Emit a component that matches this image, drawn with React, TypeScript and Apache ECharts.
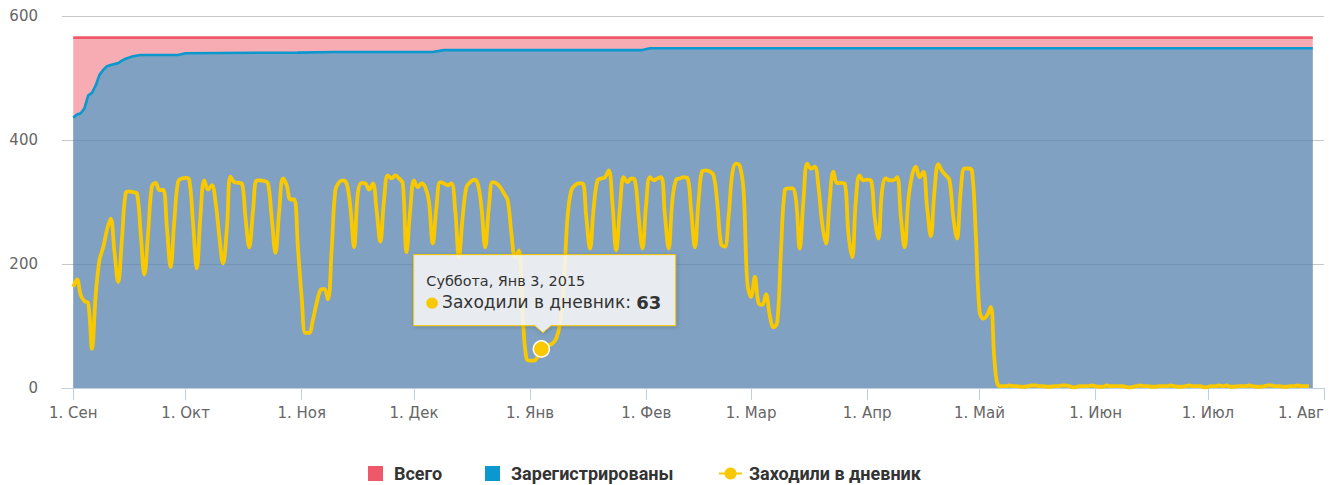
import React, { useEffect, useRef } from "react";
import * as echarts from "echarts";

// ---------- data ----------
const MONTHS = ["Янв", "Фев", "Мар", "Апр", "Май", "Июн", "Июл", "Авг", "Сен", "Окт", "Ноя", "Дек"];
const AXIS_START = "2014-08-29";
const AXIS_END = "2015-08-01";
const DATA_START = "2014-09-01";

const SERIES_NAMES = ["Всего", "Зарегистрированы", "Заходили в дневник"];

// [day offset from DATA_START, value]
const TOTAL_POINTS: [number, number][] = [
  [0, 565],
  [331, 565],
];

const REGISTERED_POINTS: [number, number][] = [
  [0, 436], [1, 441], [2, 443], [3, 451], [4, 472], [5, 476], [6, 488], [7, 505],
  [8, 513], [9, 519], [10, 521], [12, 524], [13, 528], [14, 531], [15, 533], [16, 535],
  [18, 537], [28, 537], [30, 540], [60, 541], [70, 542], [96, 542], [99, 545],
  [152, 545], [154, 548], [331, 548],
];

// daily values starting at DATA_START
const VISITS: number[] = [
  163, 175, 150, 140, 137, 63, 150,
  206, 227, 255, 273, 220, 171, 240,
  314, 317, 316, 314, 250, 183, 250,
  325, 331, 319, 320, 260, 195, 270,
  333, 338, 339, 335, 265, 193, 280,
  335, 320, 327, 300, 245, 201, 255,
  341, 332, 331, 330, 275, 227, 285,
  335, 335, 334, 330, 275, 218, 285,
  338, 327, 304, 304, 226, 147, 89,
  89, 110, 137, 158, 160, 143, 222,
  319, 332, 335, 330, 292, 227, 314,
  331, 330, 320, 330, 287, 236, 303,
  343, 338, 343, 338, 330, 219, 287,
  335, 324, 330, 324, 300, 233, 292,
  332, 330, 327, 330, 287, 211, 276,
  324, 332, 336, 330, 292, 227, 292,
  332, 330, 324, 314, 303, 250, 211,
  222, 120, 48, 44, 44, 50, 63,
  66, 69, 72, 80, 104, 168, 276,
  319, 327, 330, 330, 276, 225, 292,
  335, 338, 340, 351, 297, 222, 292,
  340, 332, 338, 335, 276, 225, 297,
  340, 335, 338, 340, 279, 225, 303,
  336, 338, 340, 339, 287, 227, 303,
  350, 351, 349, 343, 297, 232, 228,
  276, 346, 362, 358, 319, 170, 147,
  179, 137, 134, 151, 117, 98, 106,
  222, 319, 322, 322, 303, 225, 303,
  362, 354, 357, 324, 265, 233, 303,
  349, 330, 331, 330, 249, 211, 303,
  343, 335, 336, 335, 276, 241, 319,
  338, 335, 335, 340, 276, 227, 303,
  343, 357, 340, 349, 292, 245, 319,
  361, 350, 343, 335, 276, 241, 319,
  354, 354, 350, 250, 125, 112, 117,
  131, 45, 4, 3, 3, 4, 3,
  3, 2, 2, 3, 4, 4, 3,
  3, 2, 2, 3, 3, 4, 4,
  3, 1, 2, 3, 3, 3, 4,
  3, 2, 2, 4, 3, 3, 3,
  3, 2, 1, 2, 3, 4, 3,
  3, 2, 2, 3, 3, 3, 4,
  3, 2, 2, 3, 4, 3, 3,
  3, 1, 2, 3, 3, 4, 3,
  4, 2, 2, 3, 3, 3, 4,
  3, 2, 2, 3, 4, 4, 3,
  3, 2, 2, 3, 3, 4, 3,
  3, 3,
];

const HOVER_DAY = 125;
const TOOLTIP_TITLE = "Суббота, Янв 3, 2015";

const COLORS = {
  total: "#ef5868",
  registered: "#0a98cf",
  visits: "#f8c800",
};

// ---------- helpers ----------
const DAY_MS = 86400000;
const toStr = (t: number) => new Date(t).toISOString().slice(0, 10);
const parse = (s: string) => Date.parse(s + "T00:00:00Z");

const CATEGORIES: string[] = [];
for (let t = parse(AXIS_START); t <= parse(AXIS_END); t += DAY_MS) CATEGORIES.push(toStr(t));
const dayToIndex = (d: number) => CATEGORIES.indexOf(toStr(parse(DATA_START) + d * DAY_MS));
const isMonthStart = (_i: number, v: string) => v.endsWith("-01");

const W = 1335;
const H = 485;

export default function App() {
  const ref = useRef<HTMLDivElement>(null);

  useEffect(() => {
    if (!ref.current) return;
    document.documentElement.style.overflow = "hidden";
    document.body.style.margin = "0";
    document.body.style.overflow = "hidden";
    const chart = echarts.init(ref.current, null, { renderer: "svg", width: W, height: H });
    const font = "DejaVu Sans";
    const legendText = {
      fontSize: 18,
      lineHeight: 21,
      fontWeight: "bold" as const,
      color: "#333",
      fontFamily: "Roboto",
    };
    const legendBase = { padding: 0, top: 463, itemHeight: 15 };

    const option: any = {
      animation: false,
      backgroundColor: "#fff",
      grid: { left: 62, right: 11, top: 16, bottom: 97, containLabel: false, outerBoundsMode: "none" },
      xAxis: {
        type: "category",
        data: CATEGORIES,
        boundaryGap: false,
        axisLine: { show: true, lineStyle: { color: "#c0d0e0", width: 1 } },
        axisTick: { show: true, interval: isMonthStart, length: 12, lineStyle: { color: "#c0d0e0" } },
        axisLabel: {
          interval: isMonthStart,
          margin: 17,
          color: "#666",
          fontSize: 15,
          fontFamily: font,
          alignMaxLabel: "right",
          formatter: (v: string) => {
            const [, m, d] = v.split("-");
            return d === "01" ? "1. " + MONTHS[+m - 1] : "";
          },
        },
        splitLine: { show: false },
      },
      yAxis: {
        type: "value",
        min: 0,
        max: 600,
        interval: 200,
        axisLine: { show: false },
        axisTick: { show: false },
        axisLabel: { color: "#666", fontSize: 15, fontFamily: font, margin: 24 },
        splitLine: { lineStyle: { color: "#c8c8c8", width: 1 } },
      },
      legend: [
        {
          ...legendBase,
          left: 368,
          itemWidth: 15,
          data: [{ name: SERIES_NAMES[0], icon: "rect" }],
          textStyle: { ...legendText, padding: [0, 0, 0, 6] },
        },
        {
          ...legendBase,
          left: 485,
          itemWidth: 15,
          data: [{ name: SERIES_NAMES[1], icon: "rect" }],
          textStyle: { ...legendText, padding: [0, 0, 0, 6] },
        },
        {
          ...legendBase,
          left: 718,
          itemWidth: 23,
          data: [{ name: SERIES_NAMES[2] }],
          textStyle: { ...legendText, padding: [0, 0, 0, 2] },
        },
      ],
      series: [
        {
          name: SERIES_NAMES[0],
          type: "line",
          showSymbol: false,
          symbol: "none",
          data: TOTAL_POINTS.map(([d, v]) => [dayToIndex(d), v]),
          lineStyle: { color: COLORS.total, width: 2.8 },
          itemStyle: { color: COLORS.total },
          areaStyle: { color: COLORS.total, opacity: 0.5 },
          z: 1,
        },
        {
          name: SERIES_NAMES[1],
          type: "line",
          showSymbol: false,
          symbol: "none",
          data: REGISTERED_POINTS.map(([d, v]) => [dayToIndex(d), v]),
          lineStyle: { color: COLORS.registered, width: 2.6 },
          itemStyle: { color: COLORS.registered },
          areaStyle: { color: COLORS.registered, opacity: 0.5 },
          z: 2,
        },
        {
          name: SERIES_NAMES[2],
          type: "line",
          showSymbol: false,
          symbol: "circle",
          symbolSize: 8,
          smooth: 0.4,
          data: VISITS.map((v, i) => [dayToIndex(i), v]),
          lineStyle: { color: COLORS.visits, width: 3.8 },
          itemStyle: { color: COLORS.visits },
          markPoint: {
            silent: true,
            symbol: "circle",
            symbolSize: 16,
            label: { show: false },
            itemStyle: { color: COLORS.visits, borderColor: "#fff", borderWidth: 1.5 },
            data: [{ coord: [dayToIndex(HOVER_DAY), VISITS[HOVER_DAY]] }],
          },
          z: 3,
        },
      ],
    };
    chart.setOption(option);

    const [px, py] = chart.convertToPixel({ gridIndex: 0 }, [dayToIndex(HOVER_DAY), VISITS[HOVER_DAY]]) as number[];
    const L = px - 127.7;
    const R = px + 134.3;
    const T = py - 94.3;
    const B = py - 23.3;
    const nx = px + 1.6;
    chart.setOption({
      graphic: [
        {
          type: "polygon",
          z: 100,
          shape: {
            points: [
              [L, T], [R, T], [R, B], [nx + 8, B], [nx, B + 7], [nx - 8, B], [L, B],
            ],
          },
          style: {
            fill: "rgba(249,249,249,0.86)",
            stroke: COLORS.visits,
            lineWidth: 1,
            shadowBlur: 4,
            shadowOffsetX: 1,
            shadowOffsetY: 1,
            shadowColor: "rgba(0,0,0,0.2)",
          },
        },
        {
          type: "text",
          z: 101,
          style: {
            x: L + 12.7,
            y: T + 26.7,
            text: TOOLTIP_TITLE,
            fill: "#333",
            fontSize: 14.4,
            fontFamily: font,
            verticalAlign: "middle",
          },
        },
        {
          type: "text",
          z: 101,
          style: {
            x: L + 12,
            y: T + 47.7,
            text: "{dot|●} {name|" + SERIES_NAMES[2] + ": }{val|" + VISITS[HOVER_DAY] + "}",
            verticalAlign: "middle",
            rich: {
              dot: { fill: COLORS.visits, fontSize: 15, fontFamily: font },
              name: { fill: "#333", fontSize: 17, fontFamily: font },
              val: { fill: "#333", fontSize: 18, fontWeight: "bold", fontFamily: font },
            },
          },
        },
      ],
    });

    return () => chart.dispose();
  }, []);

  return (
    <div
      ref={ref}
      style={{ position: "absolute", left: 0, top: 0, width: W, height: H }}
    />
  );
}
